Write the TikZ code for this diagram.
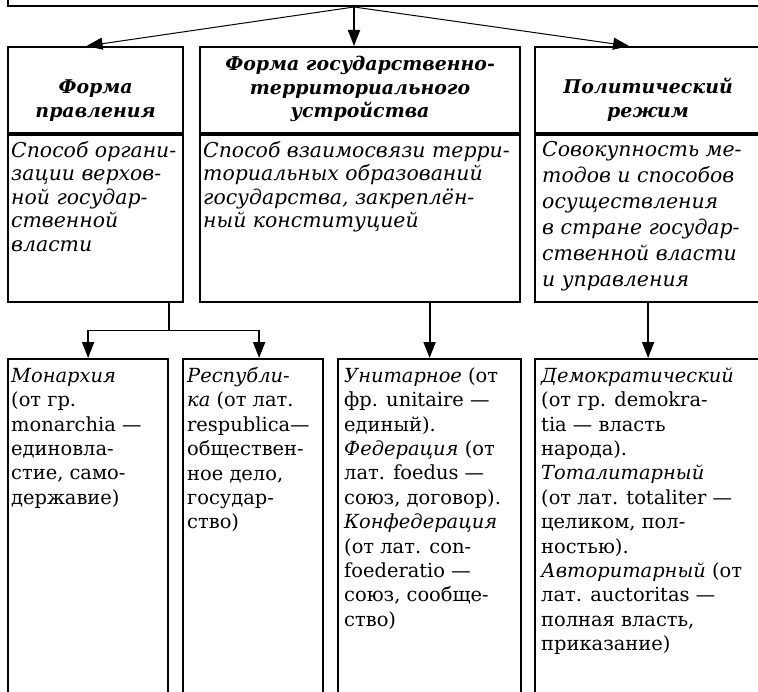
\documentclass[tikz,border=0pt]{standalone}
\usepackage{fontspec}
\setmainfont{DejaVu Serif}
\usetikzlibrary{arrows.meta, positioning}

\newcommand{\strt}{\rule{0pt}{15bp}}

\begin{document}
\begin{tikzpicture}[
        x=1bp, y=-1bp,
        box/.style={draw, line width=2.2bp, inner sep=0pt, anchor=north west},
        hdr/.style={anchor=south, inner sep=0pt, align=center, font=\fontsize{19}{23.5}\selectfont\bfseries\itshape},
        def/.style={anchor=north west, inner sep=0pt, align=left, font=\fontsize{20.5}{#1}\selectfont\itshape},
        def/.default=23.5,
        txt/.style={anchor=north west, inner sep=0pt, align=left, font=\fontsize{19.5}{24.5}\selectfont},
        arr/.style={-{Triangle[length=16bp,width=12bp]}, line width=1.8bp},
        thin arr/.style={arr, line width=1bp}
    ]
        \useasboundingbox (0,0) rectangle (758,692);

        % Top box (cut by the page)
        \node[box, anchor=south west, minimum width=900bp, minimum height=60bp] (top) at (7,7) {};

        % Headers
        \node[box, minimum width=175bp, minimum height=86bp] (hA) at (7,46) {};
        \node[box, minimum width=320bp, minimum height=86bp] (hB) at (199,46) {};
        \node[box, minimum width=226bp, minimum height=86bp] (hC) at (534,46) {};
        \node[hdr] (lA) at ([yshift=13bp]hA.south) {Форма\\правления};
        \node[hdr] (lB) at ([yshift=12bp]hB.south) {Форма государственно-\\территориального\\устройства};
        \node[hdr] (lC) at ([yshift=13bp]hC.south) {Политический\\режим};

        % Definitions
        \node[box, minimum width=175bp, minimum height=167bp] (bA) at (hA.south west) {};
        \node[box, minimum width=320bp, minimum height=167bp] (bB) at (hB.south west) {};
        \node[box, minimum width=226bp, minimum height=167bp] (bC) at (hC.south west) {};
        \node[def] (tA) at ([shift={(4bp,-7bp)}]bA.north west)
            {\strt Способ органи-\\зации верхов-\\ной государ-\\ственной\\власти};
        \node[def] (tB) at ([shift={(4bp,-7bp)}]bB.north west)
            {\strt Способ взаимосвязи терри-\\ториальных образований\\государства, закреплён-\\ный конституцией};
        \node[def=26] (tC) at ([shift={(8bp,-7bp)}]bC.north west)
            {\strt Совокупность ме-\\тодов и способов\\осуществления\\в стране государ-\\ственной власти\\и управления};

        % Kinds (cut by the page)
        \node[box, minimum width=160bp, minimum height=400bp] (mon) at (7,358) {};
        \node[box, minimum width=140bp, minimum height=400bp] (resp) at (182,358) {};
        \node[box, minimum width=183bp, minimum height=400bp] (unit) at (337,358) {};
        \node[box, minimum width=226bp, minimum height=400bp] (dem) at (534,358) {};
        \node[txt] (tmon) at ([shift={(4bp,-9bp)}]mon.north west)
            {\strt\emph{Монархия}\\(от гр.\\monarchia —\\единовла-\\стие, само-\\державие)};
        \node[txt] (tresp) at ([shift={(5bp,-9bp)}]resp.north west)
            {\strt\emph{Республи-}\\\emph{ка} (от лат.\\respublica—\\обществен-\\ное дело,\\государ-\\ство)};
        \node[txt] (tunit) at ([shift={(7bp,-9bp)}]unit.north west)
            {\strt\emph{Унитарное} (от\\фр. unitaire —\\единый).\\\emph{Федерация} (от\\лат. foedus —\\союз, договор).\\\emph{Конфедерация}\\(от лат. con-\\foederatio —\\союз, сообще-\\ство)};
        \node[txt] (tdem) at ([shift={(7bp,-9bp)}]dem.north west)
            {\strt\emph{Демократический}\\(от гр. demokra-\\tia — власть\\народа).\\\emph{Тоталитарный}\\(от лат. totaliter —\\целиком, пол-\\ностью).\\\emph{Авторитарный} (от\\лат. auctoritas —\\полная власть,\\приказание)};

        % Arrows from the top box
        \coordinate (fork) at ([xshift=347bp]top.south west);
        \draw[arr] (fork) -- (fork |- hB.north);
        \draw[thin arr] (fork) -- ([xshift=-9bp]hA.north);
        \draw[thin arr] (fork) -- ([xshift=-19bp]hC.north);

        % Arrows to the kinds
        \coordinate (split) at ([yshift=-27bp]mon.north east |- bA.south);
        \draw[arr] (mon.north east |- bA.south) -- (split) -| (mon.north);
        \draw[arr] (split) -| ([xshift=6bp]resp.north);
        \draw[arr] (unit.north |- bB.south) -- (unit.north);
        \draw[arr] (dem.north |- bC.south) -- (dem.north);
    \end{tikzpicture}
\end{document}
